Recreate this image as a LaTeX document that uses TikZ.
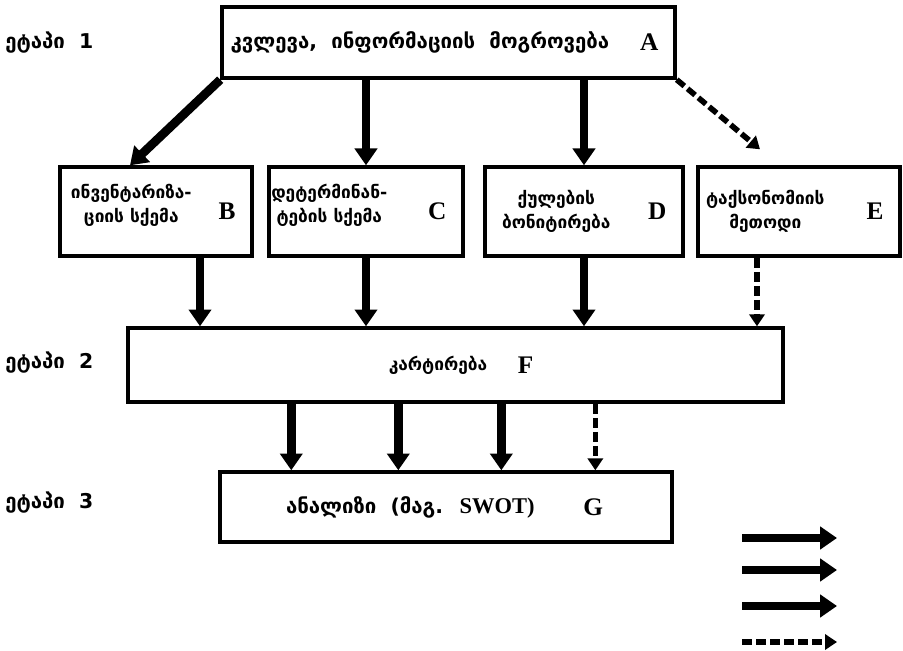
\documentclass[tikz,border=0pt]{standalone}
\usepackage{fontspec}
\usepackage{tikz}
\usetikzlibrary{arrows.meta, positioning}
\newfontfamily\geofont{DejaVu Sans}
\newfontfamily\idfont{Liberation Serif}

\begin{document}
\begin{tikzpicture}[
  x=0.025cm, y=-0.025cm,
  box/.style={rectangle, draw, line width=2.4pt, minimum height=2.225cm, inner sep=0pt},
  gtext/.style={font=\geofont\bfseries\fontsize{12.3}{17}\selectfont, align=center, inner sep=0pt},
  bigtext/.style={gtext, font=\geofont\bfseries\fontsize{14.5}{17}\selectfont},
  stage/.style={bigtext, anchor=west},
  ident/.style={font=\idfont\bfseries\fontsize{18}{20}\selectfont, inner sep=0pt},
  arr/.style={-{Triangle[length=0.42cm, width=0.55cm]}, line width=0.22cm},
  dasharr/.style={-{Triangle[length=0.3cm, width=0.38cm]}, line width=0.14cm,
                  dash pattern=on 7pt off 3pt},
]
  \useasboundingbox (0,0) rectangle (903,651);

  % stages
  \node[stage] (stage1) at (5,43)  {ეტაპი~~1};
  \node[stage] (stage2) at (5,363) {ეტაპი~~2};
  \node[stage] (stage3) at (5,503) {ეტაპი~~3};

  % boxes
  \node[box, minimum width=11.325cm, minimum height=1.775cm] (a) at (448.5,42.5) {};
  \node[box, minimum width=4.8cm]  (b) at (156,211.5) {};
  \node[box, minimum width=4.85cm] (c) at (366,211.5) {};
  \node[box, minimum width=4.95cm] (d) at (584,211.5) {};
  \node[box, minimum width=5.05cm] (e) at (799,211.5) {};
  \node[box, minimum width=16.375cm, minimum height=1.85cm] (f) at (455.5,365) {};
  \node[box, minimum width=11.3cm,   minimum height=1.75cm] (g) at (446,507) {};

  % texts
  \node[bigtext, anchor=west] (a-text) at ([xshift=0.25cm]a.west) {კვლევა,~ ინფორმაციის~ მოგროვება};
  \node[ident, left=0.45cm of a.east] (a-id) {A};
  \node[gtext] (b-text) at ([xshift=1.825cm, yshift=0.15cm]b.west) {ინვენტარიზა-\\ციის სქემა};
  \node[ident, left=0.45cm of b.east] (b-id) {B};
  \node[gtext] (c-text) at ([xshift=1.55cm, yshift=0.15cm]c.west) {დეტერმინან-\\ტების სქემა};
  \node[ident, left=0.45cm of c.east] (c-id) {C};
  \node[gtext] (d-text) at ([xshift=1.825cm]d.west) {ქულების\\ბონიტირება};
  \node[ident, left=0.45cm of d.east] (d-id) {D};
  \node[gtext] (e-text) at ([xshift=1.725cm]e.west) {ტაქსონომიის\\მეთოდი};
  \node[ident, left=0.45cm of e.east] (e-id) {E};
  \node[gtext, anchor=east] (f-text) at ([xshift=0.8cm]f.center) {კარტირება};
  \node[ident, right=0.75cm of f-text] (f-id) {F};
  \node[bigtext, anchor=east] (g-text) at ([xshift=2.225cm]g.center)
    {ანალიზი~ (მაგ.~ {\idfont\bfseries\fontsize{16}{17}\selectfont SWOT)}};
  \node[ident, right=1.2cm of g-text] (g-id) {G};

  % stage 1 -> 2
  \draw[arr] (a.south west) -- ([xshift=-0.65cm]b.north);
  \draw[arr] (c.north |- a.south) -- (c.north);
  \draw[arr] (d.north |- a.south) -- (d.north);
  \draw[dasharr] (a.south east) -- ([xshift=-0.975cm, yshift=0.4cm]e.north);

  \draw[arr] ([xshift=1.1cm]b.south) -- ([xshift=1.1cm]b.south |- f.north);
  \draw[arr] (c.south) -- (c.south |- f.north);
  \draw[arr] (d.south) -- (d.south |- f.north);
  \draw[dasharr] ([xshift=-1.05cm]e.south) -- ([xshift=-1.05cm]e.south |- f.north);

  % stage 2 -> 3
  \foreach \dx in {1.825,4.5,7.075}
    \draw[arr] ([xshift=\dx cm]g.north west |- f.south) -- ([xshift=\dx cm]g.north west);
  \draw[dasharr] ([xshift=9.425cm]g.north west |- f.south) -- ([xshift=9.425cm]g.north west);

  % key
  \coordinate (key1) at (742,538); \coordinate (key1-end) at (837,538);
  \coordinate (key2) at (742,570); \coordinate (key2-end) at (837,570);
  \coordinate (key3) at (742,606); \coordinate (key3-end) at (837,606);
  \coordinate (key4) at (742,642); \coordinate (key4-end) at (837,642);
  \draw[arr] (key1) -- (key1-end);
  \draw[arr] (key2) -- (key2-end);
  \draw[arr] (key3) -- (key3-end);
  \draw[dasharr] (key4) -- (key4-end);
\end{tikzpicture}
\end{document}
